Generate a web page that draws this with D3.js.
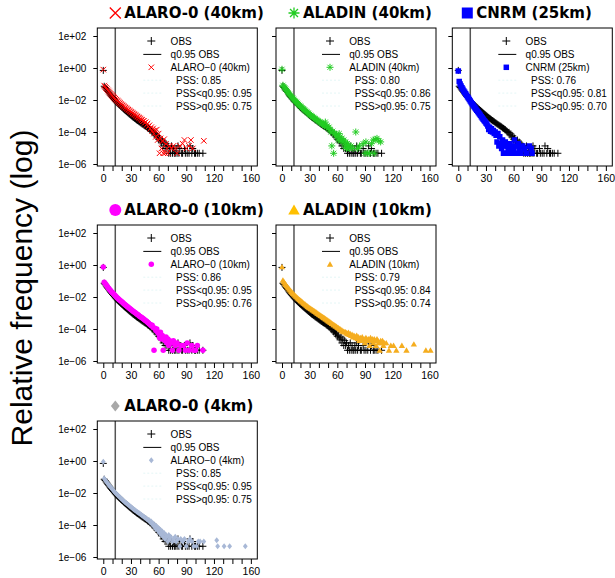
<!DOCTYPE html>
<html>
<head>
<meta charset="utf-8">
<script src="https://cdn.jsdelivr.net/npm/d3@7"></script>
<style>
  body { margin: 0; background: #fff; }
  svg { display: block; }
</style>
</head>
<body>
<div id="chart"></div>
<script>
// values: [x, log10(relative frequency)]
const obs = [[0,-0.15],[1,-1.14],[2,-1.22],[3,-1.30],[4,-1.38],[5,-1.46],[6,-1.54],[7,-1.62],[8,-1.70],[9,-1.77],[10,-1.84],[11,-1.91],[12,-1.98],[13,-2.05],[14,-2.11],[15,-2.17],[16,-2.23],[17,-2.29],[18,-2.34],[19,-2.40],[20,-2.45],[21,-2.50],[22,-2.56],[23,-2.61],[24,-2.66],[25,-2.71],[26,-2.76],[27,-2.81],[28,-2.86],[29,-2.91],[30,-2.96],[31,-3.01],[32,-3.06],[33,-3.10],[34,-3.15],[35,-3.19],[36,-3.24],[37,-3.28],[38,-3.32],[39,-3.36],[40,-3.41],[41,-3.45],[42,-3.49],[43,-3.53],[44,-3.57],[45,-3.61],[46,-3.64],[47,-3.68],[48,-3.74],[49,-3.77],[50,-3.82],[51,-3.85],[52,-3.92],[53,-3.96],[54,-4.05],[55,-4.02],[56,-4.18],[57,-4.12],[58,-4.31],[59,-4.24],[60,-4.45],[61,-4.38],[62,-4.56],[63,-4.68],[64,-4.5],[65,-4.87],[66,-4.63],[67,-5.03],[68,-4.73],[69,-5.03],[70,-4.87],[71,-5.33],[72,-5.03],[73,-5.33],[74,-4.87],[75,-5.33],[76,-5.03],[77,-5.33],[78,-5.33],[79,-5.03],[80,-5.33],[81,-4.87],[82,-5.33],[83,-5.03],[85,-5.33],[86,-5.33],[88,-5.03],[89,-5.33],[91,-5.33],[93,-5.33],[94,-4.87],[96,-5.33],[97,-5.03],[99,-5.33],[100,-5.33],[102,-5.33],[104,-5.33],[108,-5.33]];

const alaro40 = [[0,-0.1],[1,-1.1],[2,-1.17],[3,-1.25],[4,-1.32],[5,-1.4],[6,-1.47],[7,-1.54],[8,-1.61],[9,-1.68],[10,-1.74],[11,-1.8],[12,-1.86],[13,-1.92],[14,-1.98],[15,-2.03],[16,-2.08],[17,-2.14],[18,-2.19],[19,-2.24],[20,-2.29],[21,-2.34],[22,-2.38],[23,-2.43],[24,-2.48],[25,-2.52],[26,-2.57],[27,-2.61],[28,-2.65],[29,-2.7],[30,-2.74],[31,-2.78],[32,-2.83],[33,-2.87],[34,-2.91],[35,-2.95],[36,-3.0],[37,-3.04],[38,-3.08],[39,-3.12],[40,-3.16],[41,-3.22],[42,-3.25],[43,-3.33],[44,-3.3],[45,-3.42],[46,-3.38],[47,-3.55],[48,-3.47],[49,-3.66],[50,-3.58],[51,-3.8],[52,-3.7],[53,-3.95],[54,-3.78],[55,-4.1],[56,-3.9],[57,-4.3],[58,-3.85],[59,-4.5],[60,-4.1],[61,-5.33],[62,-4.4],[63,-5.03],[64,-4.6],[65,-5.33],[66,-4.45],[67,-5.33],[68,-4.75],[69,-5.03],[70,-5.33],[72,-4.87],[74,-5.03],[76,-4.87],[78,-5.03],[80,-5.33],[83,-4.87],[86,-4.73],[88,-4.5],[90,-5.03],[93,-4.87],[95,-4.5],[97,-5.03],[109,-4.55]];

const aladin40 = [[0,-0.08],[1,-1.08],[2,-1.16],[3,-1.24],[4,-1.32],[5,-1.4],[6,-1.48],[7,-1.56],[8,-1.63],[9,-1.7],[10,-1.77],[11,-1.84],[12,-1.9],[13,-1.97],[14,-2.03],[15,-2.09],[16,-2.15],[17,-2.21],[18,-2.27],[19,-2.33],[20,-2.38],[21,-2.44],[22,-2.49],[23,-2.55],[24,-2.6],[25,-2.65],[26,-2.7],[27,-2.75],[28,-2.8],[29,-2.85],[30,-2.9],[31,-2.95],[32,-2.99],[33,-3.04],[34,-3.08],[35,-3.13],[36,-3.17],[37,-3.21],[38,-3.26],[39,-3.3],[40,-3.34],[41,-3.38],[42,-3.42],[43,-3.46],[44,-3.5],[45,-3.55],[46,-3.6],[47,-3.38],[48,-3.7],[49,-3.62],[50,-3.75],[51,-3.7],[52,-3.85],[53,-4.0],[54,-4.87],[55,-3.95],[56,-5.33],[57,-4.1],[58,-4.2],[59,-4.15],[60,-4.3],[61,-4.5],[62,-4.1],[63,-4.3],[64,-4.55],[65,-4.4],[66,-4.62],[67,-4.5],[68,-4.87],[69,-4.62],[70,-5.03],[71,-4.73],[72,-4.87],[73,-5.03],[75,-4.87],[77,-5.03],[80,-4.0],[82,-5.03],[84,-4.87],[88,-4.73],[90,-5.33],[91,-4.62],[93,-5.33],[95,-5.33],[97,-4.73],[99,-4.5],[100,-5.33],[101,-4.46],[103,-4.4],[105,-4.55],[107,-4.62]];

const cnrm25 = [[0,-0.19],[1,-0.85],[2,-1.0],[3,-1.12],[4,-1.23],[5,-1.33],[6,-1.43],[7,-1.52],[8,-1.61],[9,-1.7],[10,-1.79],[11,-1.88],[12,-1.97],[13,-2.06],[14,-2.15],[15,-2.24],[16,-2.32],[17,-2.4],[18,-2.48],[19,-2.56],[20,-2.64],[21,-2.72],[22,-2.8],[23,-2.88],[24,-2.96],[25,-3.04],[26,-3.12],[27,-3.2],[28,-3.28],[29,-3.35],[30,-3.44],[31,-3.5],[32,-3.62],[33,-3.85],[34,-3.7],[35,-3.95],[36,-3.8],[37,-4.0],[38,-3.9],[39,-4.1],[40,-4.0],[41,-4.2],[42,-4.62],[43,-4.1],[44,-4.87],[45,-4.3],[46,-4.73],[47,-5.03],[48,-4.5],[49,-5.33],[50,-4.87],[51,-4.62],[52,-5.33],[53,-4.87],[54,-5.03],[55,-5.33],[56,-4.73],[57,-5.03],[58,-4.87],[59,-5.33],[60,-5.03],[61,-4.5],[62,-4.87],[64,-5.33],[65,-4.73],[66,-5.03],[68,-5.33],[70,-4.87],[72,-5.03],[74,-5.33],[77,-4.87],[79,-5.03],[80,-5.33]];

const alaro10 = [[0,-0.12],[1,-1.08],[2,-1.16],[3,-1.24],[4,-1.32],[5,-1.4],[6,-1.47],[7,-1.54],[8,-1.61],[9,-1.68],[10,-1.74],[11,-1.8],[12,-1.86],[13,-1.92],[14,-1.98],[15,-2.04],[16,-2.09],[17,-2.15],[18,-2.2],[19,-2.25],[20,-2.3],[21,-2.35],[22,-2.4],[23,-2.45],[24,-2.5],[25,-2.55],[26,-2.6],[27,-2.64],[28,-2.69],[29,-2.74],[30,-2.78],[31,-2.83],[32,-2.87],[33,-2.92],[34,-2.96],[35,-3.0],[36,-3.05],[37,-3.09],[38,-3.13],[39,-3.18],[40,-3.22],[41,-3.26],[42,-3.3],[43,-3.35],[44,-3.39],[45,-3.43],[46,-3.48],[47,-3.52],[48,-3.58],[49,-3.62],[50,-3.68],[51,-3.72],[52,-3.8],[53,-3.77],[54,-3.9],[55,-5.33],[56,-3.95],[57,-4.1],[58,-4.0],[59,-4.2],[60,-4.3],[61,-4.55],[62,-4.2],[63,-4.62],[64,-4.4],[65,-5.33],[66,-4.62],[67,-4.73],[68,-4.5],[69,-4.87],[70,-4.62],[71,-5.03],[72,-4.73],[74,-4.87],[75,-5.33],[76,-4.73],[78,-5.03],[80,-4.87],[82,-5.33],[84,-5.03],[87,-5.03],[89,-5.33],[91,-4.87],[93,-5.33],[96,-5.03],[98,-5.33],[100,-5.33],[102,-5.03],[108,-5.33]];

const aladin10 = [[0,-0.12],[1,-0.95],[2,-1.05],[3,-1.14],[4,-1.22],[5,-1.3],[6,-1.38],[7,-1.45],[8,-1.52],[9,-1.59],[10,-1.66],[11,-1.72],[12,-1.78],[13,-1.84],[14,-1.9],[15,-1.96],[16,-2.01],[17,-2.07],[18,-2.12],[19,-2.17],[20,-2.22],[21,-2.27],[22,-2.32],[23,-2.37],[24,-2.42],[25,-2.46],[26,-2.51],[27,-2.55],[28,-2.6],[29,-2.64],[30,-2.68],[31,-2.72],[32,-2.76],[33,-2.8],[34,-2.84],[35,-2.88],[36,-2.92],[37,-2.96],[38,-3.0],[39,-3.04],[40,-3.08],[41,-3.12],[42,-3.16],[43,-3.2],[44,-3.24],[45,-3.28],[46,-3.32],[47,-3.36],[48,-3.4],[49,-3.44],[50,-3.49],[51,-3.52],[52,-3.57],[53,-3.6],[54,-3.66],[55,-3.68],[56,-3.74],[57,-3.76],[58,-3.82],[59,-3.84],[60,-3.9],[61,-3.92],[62,-3.98],[63,-4.0],[64,-4.06],[65,-4.08],[66,-4.14],[67,-4.15],[68,-4.2],[69,-4.18],[70,-4.25],[71,-4.3],[72,-4.22],[73,-4.35],[74,-4.3],[75,-4.42],[76,-4.35],[77,-4.5],[78,-4.4],[79,-4.46],[80,-4.55],[81,-4.4],[82,-4.62],[83,-4.5],[84,-4.73],[85,-4.55],[86,-4.62],[87,-4.5],[88,-4.73],[89,-4.62],[90,-4.87],[91,-4.55],[92,-4.62],[93,-4.73],[94,-4.62],[95,-5.03],[96,-4.55],[97,-4.73],[98,-4.62],[99,-4.87],[100,-4.62],[101,-4.73],[102,-5.03],[103,-4.62],[104,-4.73],[105,-4.87],[106,-5.33],[107,-4.73],[108,-4.87],[109,-4.73],[110,-5.03],[111,-4.87],[113,-4.87],[116,-5.33],[118,-5.03],[121,-5.03],[124,-5.33],[130,-5.03],[135,-5.33],[143,-4.95],[156,-5.33],[161,-5.33]];

const alaro4 = [[0,-0.05],[1,-1.1],[2,-1.18],[3,-1.26],[4,-1.34],[5,-1.42],[6,-1.5],[7,-1.57],[8,-1.64],[9,-1.71],[10,-1.78],[11,-1.85],[12,-1.92],[13,-1.98],[14,-2.04],[15,-2.1],[16,-2.16],[17,-2.22],[18,-2.27],[19,-2.33],[20,-2.38],[21,-2.43],[22,-2.49],[23,-2.54],[24,-2.59],[25,-2.64],[26,-2.69],[27,-2.73],[28,-2.78],[29,-2.83],[30,-2.88],[31,-2.92],[32,-2.97],[33,-3.01],[34,-3.06],[35,-3.1],[36,-3.15],[37,-3.19],[38,-3.23],[39,-3.27],[40,-3.32],[41,-3.36],[42,-3.4],[43,-3.44],[44,-3.49],[45,-3.53],[46,-3.57],[47,-3.62],[48,-3.65],[49,-3.72],[50,-3.7],[51,-3.85],[52,-3.78],[53,-3.95],[54,-3.9],[55,-4.1],[56,-4.0],[57,-4.25],[58,-4.1],[59,-4.35],[60,-4.2],[61,-4.5],[62,-4.3],[63,-4.62],[64,-4.4],[65,-4.73],[66,-4.5],[67,-4.87],[68,-4.62],[69,-4.73],[70,-5.03],[71,-4.62],[72,-4.87],[73,-4.73],[75,-5.03],[76,-4.87],[78,-4.73],[79,-5.03],[81,-4.87],[83,-5.33],[84,-4.87],[86,-5.03],[88,-4.87],[90,-5.33],[92,-5.03],[94,-4.87],[96,-5.03],[98,-5.33],[101,-5.33],[103,-5.03],[105,-5.03],[109,-5.03],[123,-4.95],[124,-5.33],[131,-5.33],[137,-5.33],[154,-5.33]];

const titles = ["ALARO-0 (40km)", "ALADIN (40km)", "CNRM (25km)", "ALARO-0 (10km)", "ALADIN (10km)", "ALARO-0 (4km)"];
const legendNames = ["ALARO\u22120 (40km)", "ALADIN (40km)", "CNRM (25km)", "ALARO\u22120 (10km)", "ALADIN (10km)", "ALARO\u22120 (4km)"];
const pssAll = ["0.85", "0.80", "0.76", "0.86", "0.79", "0.85"];
const pssLow = ["0.95", "0.86", "0.81", "0.95", "0.84", "0.95"];
const pssHigh = ["0.75", "0.75", "0.70", "0.76", "0.74", "0.75"];
const q95 = 13;

const yTicks = [1e2, 1e0, 1e-2, 1e-4, 1e-6];
const yTickLabels = ["1e+02", "1e+00", "1e\u221202", "1e\u221204", "1e\u221206"];
const xTicks = [0, 10, 20, 30, 40, 50, 60, 70, 80, 90, 100, 110, 120, 130, 140, 150, 160];
const xTickLabels = [0, 30, 60, 90, 120, 160];

const panelDefs = [
  { data: alaro40, shape: "x", color: "#ff0000", titleColor: "#ff0000", col: 0, row: 0 },
  { data: aladin40, shape: "star", color: "#22cc22", titleColor: "#22cc22", col: 1, row: 0 },
  { data: cnrm25, shape: "square", color: "#0000ff", titleColor: "#0000ff", col: 2, row: 0 },
  { data: alaro10, shape: "circle", color: "#ff00ff", titleColor: "#ff00ff", col: 0, row: 1 },
  { data: aladin10, shape: "triangle", color: "#f5ad1f", titleColor: "#ffc000", col: 1, row: 1 },
  { data: alaro4, shape: "diamond", color: "#a8b8d6", titleColor: "#a8a8a8", col: 0, row: 2 },
];

const width = 615, height = 578;
const colX = [97.3, 276, 452.3];
const rowY = [28, 225, 421];
const pw = 160, ph = 138;

const svg = d3.select("#chart").append("svg")
  .attr("width", width).attr("height", height)
  .style("font-family", "'Liberation Sans', Arial, sans-serif");

// marker path strings, centred at 0,0
function markerPath(shape, s) {
  const h = s / 2;
  if (shape === "plus") return `M${-h},0H${h}M0,${-h}V${h}`;
  if (shape === "x") return `M${-h},${-h}L${h},${h}M${-h},${h}L${h},${-h}`;
  if (shape === "star") {
    const d = h * 0.72;
    return `M${-h},0H${h}M0,${-h}V${h}M${-d},${-d}L${d},${d}M${-d},${d}L${d},${-d}`;
  }
  if (shape === "square") return `M${-h},${-h}H${h}V${h}H${-h}Z`;
  if (shape === "triangle") return `M0,${-h}L${h * 1.05},${h * 0.8}H${-h * 1.05}Z`;
  if (shape === "diamond") return `M0,${-h}L${h * 0.8},0L0,${h}L${-h * 0.8},0Z`;
  if (shape === "circle") return d3.symbol(d3.symbolCircle, Math.PI * h * h)();
  return "";
}
const stroked = (shape) => shape === "plus" || shape === "x" || shape === "star";
const plotSize = { x: 5.5, star: 7, square: 5.5, circle: 5.5, triangle: 6, diamond: 6 };

function drawMarker(g, shape, color, s, sw) {
  const p = g.append("path").attr("d", markerPath(shape, s));
  if (stroked(shape)) p.attr("fill", "none").attr("stroke", color).attr("stroke-width", sw);
  else p.attr("fill", color).attr("stroke", "none");
  return p;
}

panelDefs.forEach((p, i) => {
  const x0 = colX[p.col], y0 = rowY[p.row];
  const x = d3.scaleLinear().domain([-6.5, 167]).range([0, pw]);
  const y = d3.scaleLog().domain([Math.pow(10, -6.125), Math.pow(10, 2.5)]).range([ph, 0]);
  const g = svg.append("g").attr("transform", `translate(${x0},${y0})`);

  // title
  const tg = svg.append("g").attr("transform", `translate(${x0},${y0 - 10})`);
  const titleShift = p.col === 2 ? -3 : 0;
  drawMarker(tg.append("g").attr("transform", `translate(${18 + titleShift},-5)`),
    p.shape, p.titleColor, p.shape === "circle" ? 12 : 11, 1.3);
  tg.append("text").attr("x", 27 + titleShift).attr("y", 0)
    .style("font-family", "'DejaVu Sans', sans-serif").style("font-weight", "bold")
    .style("font-size", "15px").attr("fill", "#000").text(titles[i]);

  const clipId = "clip" + i;
  g.append("clipPath").attr("id", clipId).append("rect").attr("width", pw).attr("height", ph);
  const plot = g.append("g").attr("clip-path", `url(#${clipId})`);

  // q0.95 line
  plot.append("line").attr("x1", x(q95)).attr("x2", x(q95)).attr("y1", 0).attr("y2", ph)
    .attr("stroke", "#555").attr("stroke-width", 1.5);

  // observations
  plot.selectAll(".obs").data(obs).enter().append("path")
    .attr("class", "obs")
    .attr("transform", (d) => `translate(${x(d[0])},${y(Math.pow(10, d[1]))})`)
    .attr("d", markerPath("plus", 7))
    .attr("fill", "none").attr("stroke", "#000").attr("stroke-width", 1);

  // model
  const m = plot.selectAll(".mod").data(p.data).enter().append("path")
    .attr("class", "mod")
    .attr("transform", (d) => `translate(${x(d[0])},${y(Math.pow(10, d[1]))})`)
    .attr("d", markerPath(p.shape, plotSize[p.shape]));
  if (stroked(p.shape)) m.attr("fill", "none").attr("stroke", p.color).attr("stroke-width", 1);
  else m.attr("fill", p.color);

  // frame
  g.append("rect").attr("width", pw).attr("height", ph)
    .attr("fill", "none").attr("stroke", "#000").attr("stroke-width", 1);

  // y axis
  const yAxis = d3.axisLeft(y).tickValues(yTicks).tickSize(4).tickPadding(7)
    .tickFormat((d, k) => (p.col === 0 ? yTickLabels[k] : ""));
  const ya = g.append("g").call(yAxis);
  ya.select(".domain").remove();
  ya.selectAll("text").style("font-size", "10px").attr("fill", "#000");

  // x axis
  const xAxis = d3.axisBottom(x).tickValues(xTicks).tickSize(5).tickPadding(4)
    .tickFormat((d) => (xTickLabels.includes(d) ? d : ""));
  const xa = g.append("g").attr("transform", `translate(0,${ph})`).call(xAxis);
  xa.select(".domain").remove();
  xa.selectAll("text").style("font-size", "10.5px").attr("fill", "#000");

  // legend
  const lg = g.append("g");
  const base = [17, 29.9, 42.8, 55.7, 68.6, 81.5];
  drawMarker(lg.append("g").attr("transform", `translate(54,${base[0] - 4})`), "plus", "#000", 8, 1);
  lg.append("line").attr("x1", 46).attr("x2", 64).attr("y1", base[1] - 3.5).attr("y2", base[1] - 3.5)
    .attr("stroke", "#000").attr("stroke-width", 1);
  drawMarker(lg.append("g").attr("transform", `translate(54,${base[2] - 3.5})`),
    p.shape, p.color, plotSize[p.shape], 1);
  [3, 4, 5].forEach((k) => {
    lg.append("line").attr("x1", 46).attr("x2", 64).attr("y1", base[k] - 3.5).attr("y2", base[k] - 3.5)
      .attr("stroke", "#e4f6f6").attr("stroke-width", 1).attr("stroke-dasharray", "2,2");
  });
  const texts = ["OBS", "q0.95 OBS", legendNames[i]];
  texts.forEach((t, k) => {
    lg.append("text").attr("x", 73.3).attr("y", base[k]).style("font-size", "10px").text(t);
  });
  const pss = ["PSS: " + pssAll[i], "PSS<q0.95: " + pssLow[i], "PSS>q0.95: " + pssHigh[i]];
  pss.forEach((t, k) => {
    lg.append("text").attr("x", 78.7).attr("y", base[k + 3]).style("font-size", "10px").text(t);
  });
});

// shared y label
svg.append("text")
  .attr("transform", "translate(32,288) rotate(-90)")
  .attr("text-anchor", "middle")
  .style("font-size", "30px")
  .text("Relative frequency (log)");
</script>
</body>
</html>
